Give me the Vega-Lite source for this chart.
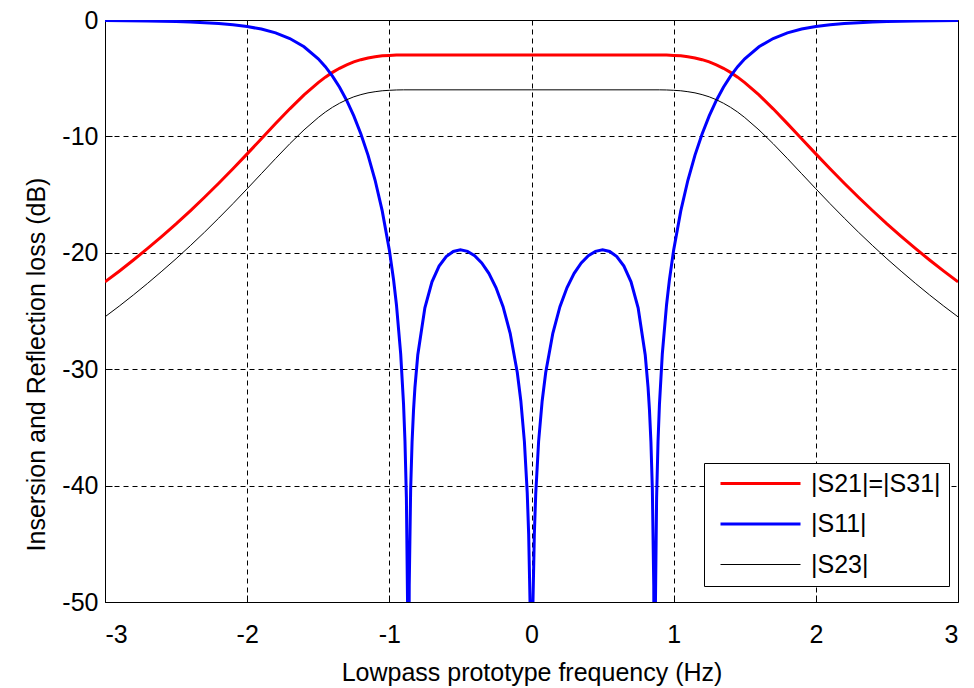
{
  "$schema": "https://vega.github.io/schema/vega-lite/v6.json",
  "autosize": {"type": "none"},
  "width": 853,
  "height": 582,
  "padding": {"left": 105, "top": 20, "right": 16, "bottom": 86},
  "background": "white",
  "config": {
    "view": {"stroke": "#000000", "strokeWidth": 1},
    "font": "Liberation Sans",
    "axis": {
      "domain": false,
      "grid": true,
      "gridColor": "#000000",
      "gridDash": [5, 4],
      "gridWidth": 1,
      "gridOpacity": 1,
      "ticks": true,
      "tickSize": -7,
      "tickColor": "#000000",
      "labelFont": "Liberation Sans",
      "labelFontSize": 25,
      "labelColor": "#000000",
      "titleFont": "Liberation Sans",
      "titleFontSize": 25,
      "titleFontWeight": "normal",
      "titleColor": "#000000"
    },
    "legend": {
      "labelFont": "Liberation Sans",
      "labelFontSize": 25,
      "labelColor": "#000000"
    }
  },
  "datasets": {
    "s21": [
      {"f": -3.0, "dB": -22.50}, {"f": -2.9, "dB": -21.58}, {"f": -2.8, "dB": -20.62}, {"f": -2.7, "dB": -19.62},
      {"f": -2.6, "dB": -18.58}, {"f": -2.5, "dB": -17.51}, {"f": -2.4, "dB": -16.39}, {"f": -2.3, "dB": -15.23},
      {"f": -2.2, "dB": -14.02}, {"f": -2.1, "dB": -12.78}, {"f": -2.0, "dB": -11.50}, {"f": -1.9, "dB": -10.20},
      {"f": -1.8, "dB": -8.90}, {"f": -1.7, "dB": -7.63}, {"f": -1.6, "dB": -6.44}, {"f": -1.5, "dB": -5.38},
      {"f": -1.45, "dB": -4.91}, {"f": -1.4, "dB": -4.50}, {"f": -1.35, "dB": -4.15}, {"f": -1.3, "dB": -3.85},
      {"f": -1.25, "dB": -3.60}, {"f": -1.2, "dB": -3.41}, {"f": -1.15, "dB": -3.26}, {"f": -1.1, "dB": -3.16},
      {"f": -1.05, "dB": -3.08}, {"f": -1.0, "dB": -3.04}, {"f": -0.95, "dB": -3.01}, {"f": -0.9, "dB": -3.00},
      {"f": 0.0, "dB": -3.00},
      {"f": 0.9, "dB": -3.00}, {"f": 0.95, "dB": -3.01}, {"f": 1.0, "dB": -3.04}, {"f": 1.05, "dB": -3.08},
      {"f": 1.1, "dB": -3.16}, {"f": 1.15, "dB": -3.26}, {"f": 1.2, "dB": -3.41}, {"f": 1.25, "dB": -3.60},
      {"f": 1.3, "dB": -3.85}, {"f": 1.35, "dB": -4.15}, {"f": 1.4, "dB": -4.50}, {"f": 1.45, "dB": -4.91},
      {"f": 1.5, "dB": -5.38}, {"f": 1.6, "dB": -6.44}, {"f": 1.7, "dB": -7.63}, {"f": 1.8, "dB": -8.90},
      {"f": 1.9, "dB": -10.20}, {"f": 2.0, "dB": -11.50}, {"f": 2.1, "dB": -12.78}, {"f": 2.2, "dB": -14.02},
      {"f": 2.3, "dB": -15.23}, {"f": 2.4, "dB": -16.39}, {"f": 2.5, "dB": -17.51}, {"f": 2.6, "dB": -18.58},
      {"f": 2.7, "dB": -19.62}, {"f": 2.8, "dB": -20.62}, {"f": 2.9, "dB": -21.58}, {"f": 3.0, "dB": -22.50}
    ],
    "s23": [
      {"f": -3.0, "dB": -25.50}, {"f": -2.9, "dB": -24.58}, {"f": -2.8, "dB": -23.62}, {"f": -2.7, "dB": -22.62},
      {"f": -2.6, "dB": -21.58}, {"f": -2.5, "dB": -20.51}, {"f": -2.4, "dB": -19.39}, {"f": -2.3, "dB": -18.23},
      {"f": -2.2, "dB": -17.02}, {"f": -2.1, "dB": -15.78}, {"f": -2.0, "dB": -14.50}, {"f": -1.9, "dB": -13.20},
      {"f": -1.8, "dB": -11.90}, {"f": -1.7, "dB": -10.63}, {"f": -1.6, "dB": -9.44}, {"f": -1.5, "dB": -8.38},
      {"f": -1.45, "dB": -7.91}, {"f": -1.4, "dB": -7.50}, {"f": -1.35, "dB": -7.15}, {"f": -1.3, "dB": -6.85},
      {"f": -1.25, "dB": -6.60}, {"f": -1.2, "dB": -6.41}, {"f": -1.15, "dB": -6.26}, {"f": -1.1, "dB": -6.16},
      {"f": -1.05, "dB": -6.08}, {"f": -1.0, "dB": -6.04}, {"f": -0.95, "dB": -6.01}, {"f": -0.9, "dB": -6.00},
      {"f": 0.0, "dB": -6.00},
      {"f": 0.9, "dB": -6.00}, {"f": 0.95, "dB": -6.01}, {"f": 1.0, "dB": -6.04}, {"f": 1.05, "dB": -6.08},
      {"f": 1.1, "dB": -6.16}, {"f": 1.15, "dB": -6.26}, {"f": 1.2, "dB": -6.41}, {"f": 1.25, "dB": -6.60},
      {"f": 1.3, "dB": -6.85}, {"f": 1.35, "dB": -7.15}, {"f": 1.4, "dB": -7.50}, {"f": 1.45, "dB": -7.91},
      {"f": 1.5, "dB": -8.38}, {"f": 1.6, "dB": -9.44}, {"f": 1.7, "dB": -10.63}, {"f": 1.8, "dB": -11.90},
      {"f": 1.9, "dB": -13.20}, {"f": 2.0, "dB": -14.50}, {"f": 2.1, "dB": -15.78}, {"f": 2.2, "dB": -17.02},
      {"f": 2.3, "dB": -18.23}, {"f": 2.4, "dB": -19.39}, {"f": 2.5, "dB": -20.51}, {"f": 2.6, "dB": -21.58},
      {"f": 2.7, "dB": -22.62}, {"f": 2.8, "dB": -23.62}, {"f": 2.9, "dB": -24.58}, {"f": 3.0, "dB": -25.50}
    ],
    "s11": [
      {"f": -3.0, "dB": -0.04}, {"f": -2.7, "dB": -0.08}, {"f": -2.5, "dB": -0.13}, {"f": -2.4, "dB": -0.17},
      {"f": -2.3, "dB": -0.23}, {"f": -2.2, "dB": -0.30}, {"f": -2.1, "dB": -0.41}, {"f": -2.0, "dB": -0.56},
      {"f": -1.9, "dB": -0.78}, {"f": -1.8, "dB": -1.11}, {"f": -1.7, "dB": -1.59}, {"f": -1.6, "dB": -2.30},
      {"f": -1.5, "dB": -3.33}, {"f": -1.45, "dB": -4.01}, {"f": -1.4, "dB": -4.82}, {"f": -1.35, "dB": -5.78},
      {"f": -1.3, "dB": -6.91}, {"f": -1.25, "dB": -8.24}, {"f": -1.2, "dB": -9.79}, {"f": -1.15, "dB": -11.61},
      {"f": -1.1, "dB": -13.77}, {"f": -1.05, "dB": -16.40}, {"f": -1.0, "dB": -19.75}, {"f": -0.97, "dB": -22.34},
      {"f": -0.95, "dB": -24.46}, {"f": -0.92, "dB": -28.71}, {"f": -0.9, "dB": -33.02}, {"f": -0.89, "dB": -36.19},
      {"f": -0.88, "dB": -41.03}, {"f": -0.87, "dB": -52.10}, {"f": -0.866, "dB": -70.0}, {"f": -0.86, "dB": -48.63},
      {"f": -0.85, "dB": -40.29}, {"f": -0.84, "dB": -36.23}, {"f": -0.83, "dB": -33.56}, {"f": -0.82, "dB": -31.59},
      {"f": -0.8, "dB": -28.78}, {"f": -0.75, "dB": -24.72}, {"f": -0.7, "dB": -22.49}, {"f": -0.65, "dB": -21.14},
      {"f": -0.6, "dB": -20.32}, {"f": -0.55, "dB": -19.89}, {"f": -0.5, "dB": -19.75}, {"f": -0.45, "dB": -19.88},
      {"f": -0.4, "dB": -20.25}, {"f": -0.35, "dB": -20.87}, {"f": -0.3, "dB": -21.76}, {"f": -0.25, "dB": -22.98},
      {"f": -0.2, "dB": -24.63}, {"f": -0.15, "dB": -26.92}, {"f": -0.1, "dB": -30.28}, {"f": -0.075, "dB": -32.73},
      {"f": -0.05, "dB": -36.21}, {"f": -0.03, "dB": -40.63}, {"f": -0.02, "dB": -44.15}, {"f": -0.01, "dB": -50.2},
      {"f": -0.005, "dB": -56.2}, {"f": 0.0, "dB": -70.0}, {"f": 0.005, "dB": -56.2}, {"f": 0.01, "dB": -50.2},
      {"f": 0.02, "dB": -44.15}, {"f": 0.03, "dB": -40.63}, {"f": 0.05, "dB": -36.21}, {"f": 0.075, "dB": -32.73},
      {"f": 0.1, "dB": -30.28}, {"f": 0.15, "dB": -26.92}, {"f": 0.2, "dB": -24.63}, {"f": 0.25, "dB": -22.98},
      {"f": 0.3, "dB": -21.76}, {"f": 0.35, "dB": -20.87}, {"f": 0.4, "dB": -20.25}, {"f": 0.45, "dB": -19.88},
      {"f": 0.5, "dB": -19.75}, {"f": 0.55, "dB": -19.89}, {"f": 0.6, "dB": -20.32}, {"f": 0.65, "dB": -21.14},
      {"f": 0.7, "dB": -22.49}, {"f": 0.75, "dB": -24.72}, {"f": 0.8, "dB": -28.78}, {"f": 0.82, "dB": -31.59},
      {"f": 0.83, "dB": -33.56}, {"f": 0.84, "dB": -36.23}, {"f": 0.85, "dB": -40.29}, {"f": 0.86, "dB": -48.63},
      {"f": 0.866, "dB": -70.0}, {"f": 0.87, "dB": -52.10}, {"f": 0.88, "dB": -41.03}, {"f": 0.89, "dB": -36.19},
      {"f": 0.9, "dB": -33.02}, {"f": 0.92, "dB": -28.71}, {"f": 0.95, "dB": -24.46}, {"f": 0.97, "dB": -22.34},
      {"f": 1.0, "dB": -19.75}, {"f": 1.05, "dB": -16.40}, {"f": 1.1, "dB": -13.77}, {"f": 1.15, "dB": -11.61},
      {"f": 1.2, "dB": -9.79}, {"f": 1.25, "dB": -8.24}, {"f": 1.3, "dB": -6.91}, {"f": 1.35, "dB": -5.78},
      {"f": 1.4, "dB": -4.82}, {"f": 1.45, "dB": -4.01}, {"f": 1.5, "dB": -3.33}, {"f": 1.6, "dB": -2.30},
      {"f": 1.7, "dB": -1.59}, {"f": 1.8, "dB": -1.11}, {"f": 1.9, "dB": -0.78}, {"f": 2.0, "dB": -0.56},
      {"f": 2.1, "dB": -0.41}, {"f": 2.2, "dB": -0.30}, {"f": 2.3, "dB": -0.23}, {"f": 2.4, "dB": -0.17},
      {"f": 2.5, "dB": -0.13}, {"f": 2.7, "dB": -0.08}, {"f": 3.0, "dB": -0.04}
    ]
  },
  "encoding": {
    "x": {
      "field": "f",
      "type": "quantitative",
      "scale": {"domain": [-3, 3], "nice": false, "zero": false},
      "axis": {
        "values": [-3, -2, -1, 0, 1, 2, 3],
        "labelExpr": "datum.value + ''",
        "labelPadding": 27,
        "title": "Lowpass prototype frequency (Hz)",
        "titlePadding": 13
      }
    },
    "y": {
      "field": "dB",
      "type": "quantitative",
      "scale": {"domain": [-50, 0], "nice": false, "zero": false},
      "axis": {
        "values": [-50, -40, -30, -20, -10, 0],
        "labelExpr": "datum.value + ''",
        "labelPadding": 14,
        "title": "Insersion and Reflection loss (dB)",
        "titlePadding": 12,
        "titleY": 344
      }
    }
  },
  "layer": [
    {
      "data": {"name": "s21"},
      "mark": {"type": "line", "clip": true, "strokeWidth": 3},
      "encoding": {
        "color": {
          "datum": "|S21|=|S31|",
          "type": "nominal",
          "scale": {
            "domain": ["|S21|=|S31|", "|S11|", "|S23|"],
            "range": ["#ff0000", "#0000ff", "#000000"]
          },
          "legend": {
            "title": null,
            "orient": "none",
            "legendX": 599,
            "legendY": 443,
            "strokeColor": "#000000",
            "fillColor": "#ffffff",
            "padding": 8,
            "cornerRadius": 0,
            "symbolType": "M-1,0H7",
            "symbolSize": 400,
            "symbolStrokeWidth": 3,
            "symbolFillColor": "transparent",
            "symbolOffset": 6,
            "labelOffset": 68,
            "rowPadding": 14.5,
            "encode": {
              "symbols": {
                "update": {
                  "strokeWidth": {"signal": "datum.value === '|S23|' ? 1 : 3"}
                }
              }
            }
          }
        }
      }
    },
    {
      "data": {"name": "s11"},
      "mark": {"type": "line", "clip": true, "strokeWidth": 3},
      "encoding": {"color": {"datum": "|S11|", "type": "nominal"}}
    },
    {
      "data": {"name": "s23"},
      "mark": {"type": "line", "clip": true, "strokeWidth": 1},
      "encoding": {"color": {"datum": "|S23|", "type": "nominal"}}
    }
  ]
}
